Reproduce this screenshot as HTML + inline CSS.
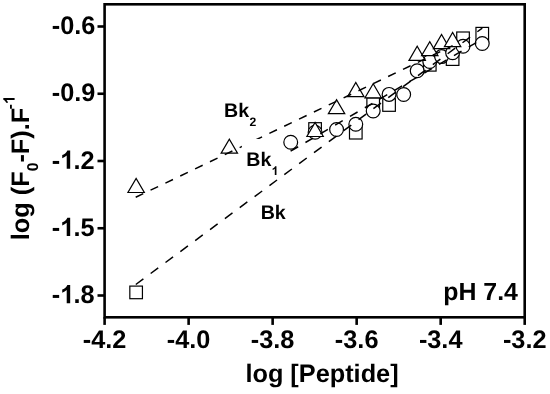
<!DOCTYPE html><html><head><meta charset="utf-8"><style>html,body{margin:0;padding:0;background:#fff}svg{display:block;will-change:transform;opacity:0.999}text{font-family:"Liberation Sans",sans-serif;font-weight:bold;fill:#000;text-rendering:geometricPrecision}</style></head><body>
<svg width="550" height="394" viewBox="0 0 550 394">
<rect width="550" height="394" fill="#fff"/>
<g fill="#fff" stroke="#000" stroke-width="1.2">
<rect x="129.83" y="286.10" width="12.6" height="12.6"/>
<rect x="308.78" y="122.70" width="12.6" height="12.6"/>
<rect x="349.49" y="126.40" width="12.6" height="12.6"/>
<rect x="366.88" y="97.90" width="12.6" height="12.6"/>
<rect x="382.76" y="98.70" width="12.6" height="12.6"/>
<rect x="423.47" y="58.50" width="12.6" height="12.6"/>
<rect x="446.31" y="52.80" width="12.6" height="12.6"/>
<rect x="456.73" y="32.00" width="12.6" height="12.6"/>
<rect x="475.96" y="27.40" width="12.6" height="12.6"/>
</g>
<g fill="#fff" stroke="#000" stroke-width="1.2">
<circle cx="290.72" cy="142.20" r="6.9"/>
<circle cx="315.08" cy="132.30" r="6.9"/>
<circle cx="336.57" cy="129.50" r="6.9"/>
<circle cx="355.79" cy="124.30" r="6.9"/>
<circle cx="373.18" cy="111.00" r="6.9"/>
<circle cx="389.06" cy="94.40" r="6.9"/>
<circle cx="403.66" cy="94.50" r="6.9"/>
<circle cx="417.18" cy="70.80" r="6.9"/>
<circle cx="429.77" cy="61.50" r="6.9"/>
<circle cx="441.55" cy="56.60" r="6.9"/>
<circle cx="452.61" cy="52.70" r="6.9"/>
<circle cx="463.03" cy="46.30" r="6.9"/>
<circle cx="482.26" cy="43.50" r="6.9"/>
</g>
<g fill="#fff" stroke="#000" stroke-width="1.2" stroke-linejoin="miter">
<path d="M127.93 192.50L144.33 192.50L136.13 178.40Z"/>
<path d="M221.13 153.20L237.53 153.20L229.33 139.10Z"/>
<path d="M306.88 136.50L323.28 136.50L315.08 122.40Z"/>
<path d="M328.37 113.70L344.77 113.70L336.57 99.60Z"/>
<path d="M347.59 96.60L363.99 96.60L355.79 82.50Z"/>
<path d="M364.98 97.80L381.38 97.80L373.18 83.70Z"/>
<path d="M408.98 60.40L425.38 60.40L417.18 46.30Z"/>
<path d="M421.57 55.70L437.97 55.70L429.77 41.60Z"/>
<path d="M433.35 48.60L449.75 48.60L441.55 34.50Z"/>
<path d="M444.41 46.60L460.81 46.60L452.61 32.50Z"/>
</g>
<line x1="135.80" y1="284.50" x2="482.26" y2="28.12" stroke="#000" stroke-width="1.5" stroke-dasharray="9.422 9.052" stroke-dashoffset="0"/>
<line x1="290.60" y1="151.20" x2="482.26" y2="39.08" stroke="#000" stroke-width="1.5" stroke-dasharray="8.774 8.430" stroke-dashoffset="0"/>
<line x1="135.70" y1="197.30" x2="452.61" y2="45.69" stroke="#000" stroke-width="1.5" stroke-dasharray="8.396 8.066" stroke-dashoffset="0"/>
<rect x="104.6" y="4.3" width="420.10" height="313.00" fill="none" stroke="#000" stroke-width="2.6"/>
<line x1="104.60" y1="317.3" x2="104.60" y2="324.9" stroke="#000" stroke-width="2.6"/>
<text x="104.60" y="347.6" font-size="25.3" text-anchor="middle">-4.2</text>
<line x1="188.62" y1="317.3" x2="188.62" y2="324.9" stroke="#000" stroke-width="2.6"/>
<text x="188.62" y="347.6" font-size="25.3" text-anchor="middle">-4.0</text>
<line x1="272.64" y1="317.3" x2="272.64" y2="324.9" stroke="#000" stroke-width="2.6"/>
<text x="272.64" y="347.6" font-size="25.3" text-anchor="middle">-3.8</text>
<line x1="356.66" y1="317.3" x2="356.66" y2="324.9" stroke="#000" stroke-width="2.6"/>
<text x="356.66" y="347.6" font-size="25.3" text-anchor="middle">-3.6</text>
<line x1="440.68" y1="317.3" x2="440.68" y2="324.9" stroke="#000" stroke-width="2.6"/>
<text x="440.68" y="347.6" font-size="25.3" text-anchor="middle">-3.4</text>
<line x1="524.70" y1="317.3" x2="524.70" y2="324.9" stroke="#000" stroke-width="2.6"/>
<text x="524.70" y="347.6" font-size="25.3" text-anchor="middle">-3.2</text>
<line x1="97.5" y1="26.50" x2="104.6" y2="26.50" stroke="#000" stroke-width="2.6"/>
<text x="51.80" y="34.20" font-size="25.3" >-0.6</text>
<line x1="97.5" y1="93.75" x2="104.6" y2="93.75" stroke="#000" stroke-width="2.6"/>
<text x="51.80" y="101.45" font-size="25.3" >-0.9</text>
<line x1="97.5" y1="161.00" x2="104.6" y2="161.00" stroke="#000" stroke-width="2.6"/>
<text x="51.80" y="168.70" font-size="25.3" >-</text>
<path d="M806 0H525V1059Q371 915 162 846V1101Q272 1137 401 1237.5Q530 1338 578 1472H806Z" transform="translate(60.23,168.70) scale(0.01235,-0.01235)" fill="#000"/>
<text x="73.39" y="168.70" font-size="25.3" >.2</text>
<line x1="97.5" y1="228.25" x2="104.6" y2="228.25" stroke="#000" stroke-width="2.6"/>
<text x="51.80" y="235.95" font-size="25.3" >-</text>
<path d="M806 0H525V1059Q371 915 162 846V1101Q272 1137 401 1237.5Q530 1338 578 1472H806Z" transform="translate(60.23,235.95) scale(0.01235,-0.01235)" fill="#000"/>
<text x="73.39" y="235.95" font-size="25.3" >.5</text>
<line x1="97.5" y1="295.50" x2="104.6" y2="295.50" stroke="#000" stroke-width="2.6"/>
<text x="51.80" y="303.20" font-size="25.3" >-</text>
<path d="M806 0H525V1059Q371 915 162 846V1101Q272 1137 401 1237.5Q530 1338 578 1472H806Z" transform="translate(60.23,303.20) scale(0.01235,-0.01235)" fill="#000"/>
<text x="73.39" y="303.20" font-size="25.3" >.8</text>
<text x="322" y="382.2" font-size="25.3" text-anchor="middle">log [Peptide]</text>
<text x="443.2" y="300.1" font-size="24.9">pH 7.4</text>
<text x="224.1" y="116.6" font-size="19.6">Bk<tspan font-size="12.2" dy="8.9" dx="0.3">2</tspan></text>
<rect x="241.9" y="139" width="38" height="12" fill="#fff"/>
<text x="246.3" y="166.3" font-size="19.6">Bk</text>
<path d="M806 0H525V1059Q371 915 162 846V1101Q272 1137 401 1237.5Q530 1338 578 1472H806Z" transform="translate(271.66,175.10) scale(0.00596,-0.00596)" fill="#000"/>
<text x="260.7" y="218.6" font-size="19.6">Bk</text>
<g transform="translate(28.5,240.2) rotate(-90)"><text x="0" y="0" font-size="25.3">log (F<tspan font-size="15.7" dy="9.6">0</tspan><tspan dy="-9.6">-F).F</tspan><tspan font-size="15.7" dy="-13.9" dx="-1.5">-</tspan></text>
<path d="M806 0H525V1059Q371 915 162 846V1101Q272 1137 401 1237.5Q530 1338 578 1472H806Z" transform="translate(136.09,-13.90) scale(0.00767,-0.00767)" fill="#000"/>
</g>
</svg></body></html>
